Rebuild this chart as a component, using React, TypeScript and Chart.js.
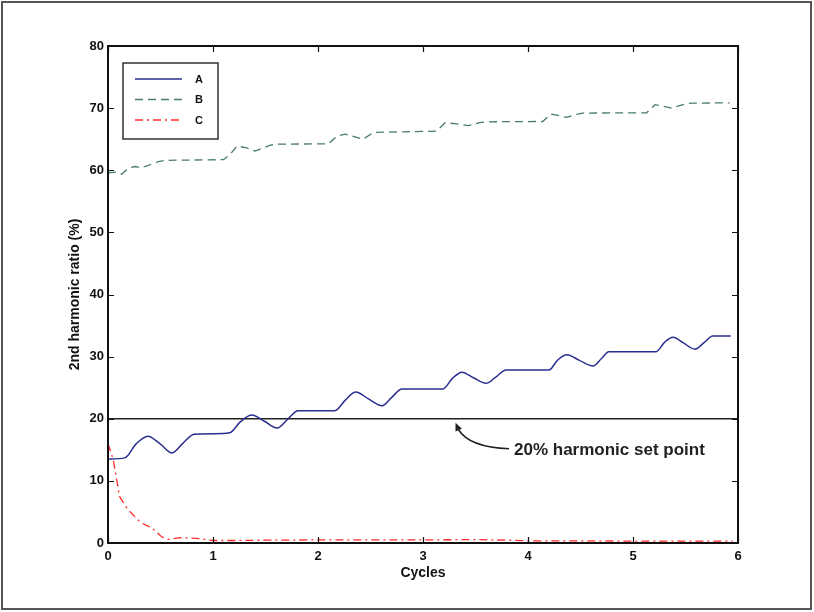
import { useEffect, useRef } from "react";
import { Chart, registerables } from "chart.js";

Chart.register(...registerables);

const FONT = "'Liberation Sans', Arial, Helvetica, sans-serif";

// Axis ranges / ticks
const xMin = 0;
const xMax = 6;
const xStep = 1;
const yMin = 0;
const yMax = 80;
const yStep = 10;

const xTitle = "Cycles";
const yTitle = "2nd harmonic ratio (%)";
const seriesLabels = ["A", "B", "C"];
const setPoint = 20;
const setPointText = "20% harmonic set point";

// Series A: oscillating ratio, rising per cycle
const cyclesA = [
  0, 0.16, 0.27, 0.38, 0.5, 0.61, 0.71, 0.82, 1.0, 1.16,
  1.26, 1.37, 1.49, 1.61, 1.71, 1.81, 2.16,
  2.26, 2.36, 2.48, 2.61, 2.7, 2.8, 3.19,
  3.28, 3.37, 3.48, 3.6, 3.7, 3.79, 4.2,
  4.28, 4.37, 4.49, 4.62, 4.7, 4.77, 5.22,
  5.3, 5.38, 5.48, 5.59, 5.68, 5.76, 5.93,
];
const ratioA = [
  13.5, 13.7, 16.0, 17.2, 15.9, 14.5, 16.0, 17.5, 17.6, 17.75,
  19.5, 20.6, 19.6, 18.5, 19.9, 21.3, 21.3,
  23.0, 24.3, 23.2, 22.1, 23.4, 24.8, 24.8,
  26.5, 27.5, 26.6, 25.7, 26.8, 27.85, 27.85,
  29.4, 30.3, 29.4, 28.5, 29.7, 30.8, 30.8,
  32.3, 33.1, 32.2, 31.2, 32.3, 33.3, 33.3,
];

// Series B: high, slowly stepping ratio
const cyclesB = [
  0, 0.08, 0.13, 0.2, 0.26, 0.31, 0.37, 0.48, 0.55, 1.1,
  1.16, 1.23, 1.32, 1.4, 1.54, 1.6, 2.1,
  2.18, 2.26, 2.43, 2.53, 3.13,
  3.21, 3.3, 3.43, 3.54, 3.6, 4.14,
  4.22, 4.37, 4.46, 4.52, 5.13,
  5.21, 5.37, 5.5, 5.56, 5.92,
];
const ratioB = [
  59.6, 59.7, 59.35, 60.4, 60.6, 60.4, 60.7, 61.4, 61.6, 61.7,
  62.5, 63.9, 63.6, 63.1, 64.0, 64.2, 64.25,
  65.5, 65.8, 65.0, 66.1, 66.3,
  67.65, 67.5, 67.2, 67.65, 67.8, 67.85,
  69.05, 68.5, 69.0, 69.2, 69.25,
  70.55, 70.0, 70.7, 70.8, 70.85,
];

// Series C: decaying ratio
const cyclesC = [
  0, 0.05, 0.11, 0.18, 0.24, 0.32, 0.42, 0.51, 0.57, 0.69,
  0.78, 0.87, 1.0, 1.2, 1.5, 2.0, 2.5, 3.0, 3.5, 3.8,
  4.0, 4.5, 5.0, 5.5, 5.95,
];
const ratioC = [
  16.0, 13.4, 7.5, 5.6, 4.5, 3.2, 2.4, 1.0, 0.6, 0.85,
  0.8, 0.7, 0.4, 0.4, 0.45, 0.5, 0.5, 0.5, 0.55, 0.45,
  0.35, 0.35, 0.3, 0.3, 0.3,
];

const colorA = "#2a2f8f";
const colorB = "#4a7d62";
const colorC = "#ff2b2b";
const dashB = [8, 5];
const dashC = [8, 4, 2, 4];

const toPoints = (xs: number[], ys: number[]) =>
  xs.map((x, i) => ({ x, y: ys[i] }));

const decorPlugin = {
  id: "decor",
  beforeDraw(chart: any) {
    const { ctx, width, height } = chart;
    ctx.save();
    ctx.fillStyle = "#ffffff";
    ctx.fillRect(0, 0, width, height);
    ctx.restore();
  },
  afterDraw(chart: any) {
    const { ctx, chartArea: ca, scales } = chart;
    const xs = scales.x;
    const ys = scales.y;
    ctx.save();

    // plot box
    ctx.strokeStyle = "#111";
    ctx.lineWidth = 2;
    ctx.strokeRect(ca.left, ca.top, ca.right - ca.left, ca.bottom - ca.top);

    // inward tick marks on all sides
    const tl = 6;
    ctx.lineWidth = 1.2;
    ctx.beginPath();
    xs.ticks.forEach((t: any) => {
      const px = Math.round(xs.getPixelForValue(t.value)) + 0.5;
      ctx.moveTo(px, ca.bottom);
      ctx.lineTo(px, ca.bottom - tl);
      ctx.moveTo(px, ca.top);
      ctx.lineTo(px, ca.top + tl);
    });
    ys.ticks.forEach((t: any) => {
      const py = Math.round(ys.getPixelForValue(t.value)) + 0.5;
      ctx.moveTo(ca.left, py);
      ctx.lineTo(ca.left + tl, py);
      ctx.moveTo(ca.right, py);
      ctx.lineTo(ca.right - tl, py);
    });
    ctx.stroke();

    // legend
    const lx = 123;
    const ly = 63;
    const lw = 95;
    const lh = 76;
    ctx.fillStyle = "#fff";
    ctx.fillRect(lx, ly, lw, lh);
    ctx.strokeStyle = "#333";
    ctx.lineWidth = 1.5;
    ctx.strokeRect(lx, ly, lw, lh);
    chart.data.datasets.slice(0, 3).forEach((ds: any, i: number) => {
      const y = ly + 16 + i * 20.5;
      ctx.beginPath();
      ctx.setLineDash(ds.borderDash || []);
      ctx.strokeStyle = ds.borderColor;
      ctx.lineWidth = ds.borderWidth;
      ctx.moveTo(lx + 12, y);
      ctx.lineTo(lx + 59, y);
      ctx.stroke();
      ctx.setLineDash([]);
      ctx.fillStyle = "#111";
      ctx.font = `bold 11px ${FONT}`;
      ctx.textAlign = "left";
      ctx.textBaseline = "middle";
      ctx.fillText(ds.label, lx + 72, y + 0.5);
    });

    // set-point annotation
    const sy = ys.getPixelForValue(setPoint);
    const tipX = xs.getPixelForValue(3.31);
    const tipY = sy + 4;
    ctx.strokeStyle = "#222";
    ctx.fillStyle = "#222";
    ctx.lineWidth = 1.5;
    ctx.beginPath();
    ctx.moveTo(509, sy + 30);
    ctx.bezierCurveTo(483, sy + 29, 466, sy + 23, tipX + 3, tipY + 7);
    ctx.stroke();
    const ang = Math.atan2(-7, -3);
    const ax = tipX;
    const ay = tipY;
    const L = 8;
    const W = 3.5;
    const bx = ax - L * Math.cos(ang);
    const by = ay - L * Math.sin(ang);
    ctx.beginPath();
    ctx.moveTo(ax, ay);
    ctx.lineTo(bx + W * Math.sin(ang), by - W * Math.cos(ang));
    ctx.lineTo(bx - W * Math.sin(ang), by + W * Math.cos(ang));
    ctx.closePath();
    ctx.fill();
    ctx.font = `bold 17px ${FONT}`;
    ctx.textAlign = "left";
    ctx.textBaseline = "middle";
    ctx.fillText(setPointText, 514, sy + 32);

    // outer frame
    ctx.strokeStyle = "#555";
    ctx.lineWidth = 2;
    ctx.strokeRect(2, 2, 809, 607);
    ctx.restore();
  },
};

export default function App() {
  const ref = useRef<HTMLCanvasElement>(null);

  useEffect(() => {
    if (!ref.current) return;
    const chart = new Chart(ref.current, {
      type: "line",
      data: {
        datasets: [
          {
            label: seriesLabels[0],
            data: toPoints(cyclesA, ratioA),
            borderColor: colorA,
            borderWidth: 1.5,
            pointRadius: 0,
            cubicInterpolationMode: "monotone",
            fill: false,
          },
          {
            label: seriesLabels[1],
            data: toPoints(cyclesB, ratioB),
            borderColor: colorB,
            borderWidth: 1.3,
            borderDash: dashB,
            pointRadius: 0,
            tension: 0,
            fill: false,
          },
          {
            label: seriesLabels[2],
            data: toPoints(cyclesC, ratioC),
            borderColor: colorC,
            borderWidth: 1.3,
            borderDash: dashC,
            pointRadius: 0,
            tension: 0,
            fill: false,
          },
          {
            label: "set point",
            data: [
              { x: xMin, y: setPoint },
              { x: xMax, y: setPoint },
            ],
            borderColor: "#222",
            borderWidth: 1.5,
            pointRadius: 0,
            fill: false,
          },
        ],
      },
      options: {
        animation: false,
        responsive: false,
        events: [],
        layout: { padding: { left: 0, top: 46, right: 76, bottom: 0 } },
        plugins: {
          legend: { display: false },
          tooltip: { enabled: false },
        },
        scales: {
          x: {
            type: "linear",
            min: xMin,
            max: xMax,
            grid: { display: false, drawTicks: false },
            border: { display: false },
            ticks: {
              stepSize: xStep,
              padding: 6,
              color: "#111",
              font: { family: FONT, size: 13, weight: "bold" },
            },
            title: {
              display: true,
              text: xTitle,
              color: "#111",
              font: { family: FONT, size: 14, weight: "bold" },
              padding: { top: 0, bottom: 30 },
            },
            afterFit(scale: any) {
              scale.height = 69;
            },
          },
          y: {
            type: "linear",
            min: yMin,
            max: yMax,
            grid: { display: false, drawTicks: false },
            border: { display: false },
            ticks: {
              stepSize: yStep,
              padding: 4,
              color: "#111",
              font: { family: FONT, size: 13, weight: "bold" },
            },
            title: {
              display: true,
              text: yTitle,
              color: "#111",
              font: { family: FONT, size: 14, weight: "bold" },
              padding: { top: 66.6, bottom: 0 },
            },
            afterFit(scale: any) {
              scale.width = 108;
            },
          },
        },
      } as any,
      plugins: [decorPlugin],
    });
    return () => chart.destroy();
  }, []);

  return (
    <div style={{ position: "absolute", left: 0, top: 0 }}>
      <canvas ref={ref} width={814} height={612} style={{ display: "block" }} />
    </div>
  );
}
